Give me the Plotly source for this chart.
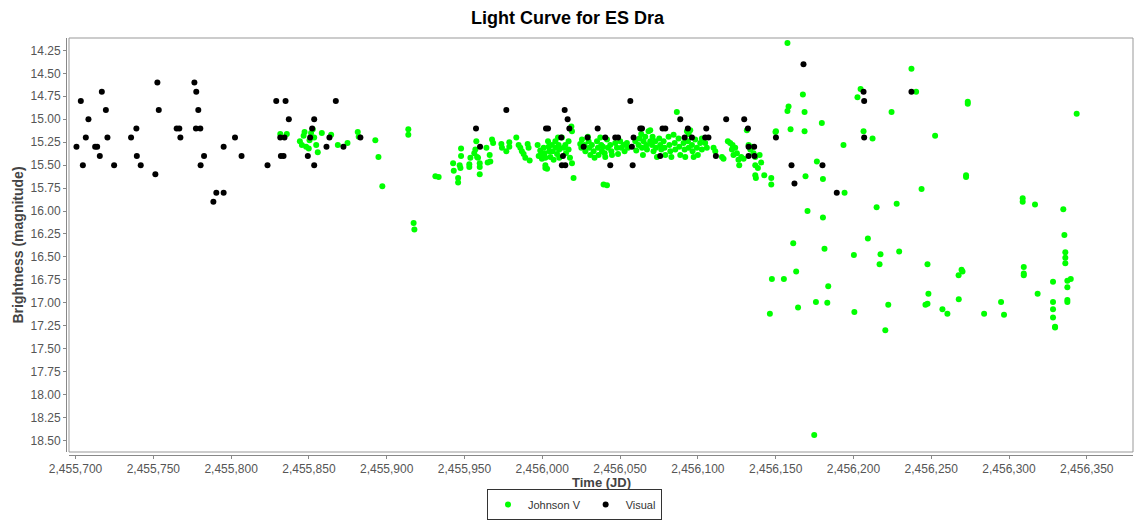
import plotly.graph_objects as go

# Johnson V observations (JD, magnitude)
jv_jd = [
    2455831.6, 2455835.8, 2455844.2, 2455845.5, 2455846.6, 2455847.2, 2455848.2, 2455849.9, 2455850.4, 2455851.4,
    2455852.5, 2455853.4, 2455854.7, 2455855.7, 2455858.3, 2455864.3, 2455868.6, 2455874.8, 2455881.4, 2455882.0,
    2455892.7, 2455894.7, 2455897.2, 2455913.9, 2455913.9, 2455917.3, 2455917.8,
    2455931.3, 2455933.4, 2455942.7, 2455943.1, 2455945.9, 2455945.9, 2455946.9, 2455947.4, 2455947.8, 2455947.8,
    2455953.1, 2455953.1, 2455953.8, 2455956.3, 2455957.0, 2455957.6, 2455958.1, 2455958.7, 2455959.8, 2455959.8,
    2455959.8, 2455964.1, 2455964.9, 2455966.2, 2455966.6, 2455967.7, 2455968.4, 2455973.7, 2455974.1, 2455976.9,
    2455978.8, 2455978.8, 2455983.3, 2455984.8, 2455985.9, 2455986.9, 2455988.0, 2455989.1, 2455990.6, 2455991.2,
    2455991.9, 2455997.0, 2455997.7,
    2455998.7, 2455999.4, 2455999.8, 2456000.9, 2456001.5, 2456002.0, 2456002.0, 2456003.7, 2456004.1, 2456004.5,
    2456005.2, 2456002.0, 2456003.1, 2456006.2, 2456006.6, 2456007.3, 2456008.4, 2456008.8, 2456009.5, 2456010.1,
    2456010.5, 2456010.9, 2456010.9, 2456012.6, 2456013.7, 2456014.8, 2456015.2, 2456016.9, 2456016.9, 2456017.8,
    2456018.7, 2456019.1, 2456019.1, 2456020.1, 2456024.4, 2456025.1, 2456025.5, 2456027.2, 2456027.7, 2456029.3,
    2456029.8, 2456030.2, 2456030.9, 2456031.9, 2456033.0, 2456033.6, 2456035.2, 2456035.8, 2456036.2, 2456037.3,
    2456037.9, 2456038.4, 2456039.0, 2456040.1, 2456040.5, 2456041.6, 2456042.2, 2456043.7, 2456044.4, 2456044.8,
    2456039.4, 2456041.6, 2456046.9, 2456048.0, 2456048.7, 2456050.1, 2456050.8, 2456052.3, 2456052.9, 2456054.4,
    2456055.1, 2456059.8, 2456060.4, 2456061.9, 2456062.5, 2456063.6, 2456064.1, 2456064.7, 2456065.1, 2456066.2,
    2456066.9, 2456067.3, 2456068.3, 2456069.4, 2456069.4, 2456070.5, 2456070.9, 2456071.5, 2456072.6, 2456073.1,
    2456073.7, 2456075.2, 2456075.8, 2456076.5, 2456078.0, 2456078.6,
    2456079.1, 2456081.2, 2456081.7, 2456082.3, 2456083.0, 2456084.4, 2456085.1, 2456085.5, 2456086.5, 2456087.6,
    2456088.1, 2456088.7, 2456090.8, 2456091.5, 2456091.9, 2456093.0, 2456094.1, 2456095.1, 2456093.6, 2456094.1,
    2456096.2, 2456096.6, 2456097.3, 2456098.3, 2456099.4, 2456100.0, 2456101.5, 2456102.6, 2456102.6, 2456104.7,
    2456105.8, 2456110.1, 2456111.2, 2456115.5, 2456116.5, 2456119.3, 2456120.8, 2456122.3, 2456121.9, 2456122.9,
    2456124.0, 2456125.1, 2456126.1, 2456126.6, 2456127.9, 2456129.4, 2456131.5, 2456132.6, 2456133.7, 2456134.7,
    2456135.8, 2456136.9, 2456136.9, 2456138.6, 2456139.7, 2456140.7, 2456136.9, 2456137.3, 2456142.7, 2456147.2,
    2456147.2, 2456150.2,
    2456157.6, 2456167.5, 2456158.3, 2456157.6, 2456168.6, 2456149.9, 2456159.6, 2456168.6, 2456179.7, 2456193.6,
    2456176.5, 2456169.2, 2456180.4, 2456194.3, 2456170.5, 2456180.4, 2456161.3, 2456181.4, 2456204.6, 2456202.6,
    2456206.5, 2456212.3, 2456237.3, 2456240.3, 2456224.5, 2456252.5, 2456273.5, 2456273.5, 2456272.4, 2456272.4,
    2456243.8, 2456214.9, 2456227.8, 2456308.8, 2456308.8, 2456316.7, 2456334.9, 2456343.5, 2456335.6, 2456209.3,
    2456200.3, 2456217.4, 2456216.8, 2456229.4, 2456247.6, 2456269.5, 2456270.1, 2456267.6, 2456309.5, 2456309.5,
    2456309.5, 2456336.2, 2456336.2, 2456336.2, 2456337.5, 2456339.7, 2456337.5, 2456328.3, 2456337.5, 2456337.5,
    2456328.3, 2456328.3, 2456328.3, 2456329.6, 2456329.6, 2456318.4, 2456294.9, 2456296.8, 2456284.0, 2456267.7,
    2456257.2, 2456260.4, 2456248.2, 2456246.3, 2456247.6, 2456222.4, 2456220.5, 2456200.6, 2456183.8, 2456183.2,
    2456175.9, 2456164.4, 2456163.2, 2456155.3, 2456147.6, 2456146.3, 2456174.8,
]
jv_mag = [
    15.16, 15.16, 15.24, 15.28, 15.18, 15.14, 15.30, 15.32, 15.23, 15.15,
    15.11, 15.20, 15.28, 15.36, 15.15, 15.17, 15.28, 15.26, 15.14, 15.19,
    15.23, 15.41, 15.73, 15.11, 15.17, 16.13, 16.20,
    15.62, 15.63, 15.48, 15.56, 15.64, 15.69, 15.50, 15.53, 15.32, 15.40,
    15.49, 15.52, 15.42, 15.37, 15.33, 15.24, 15.41, 15.42, 15.48, 15.52,
    15.60, 15.31, 15.47, 15.39, 15.46, 15.22, 15.26, 15.27, 15.31, 15.35,
    15.25, 15.30, 15.20, 15.28, 15.31, 15.35, 15.38, 15.42, 15.27, 15.31,
    15.45, 15.28, 15.40,
    15.34, 15.39, 15.43, 15.31, 15.37, 15.42, 15.50, 15.24, 15.30, 15.35,
    15.41, 15.53, 15.54, 15.28, 15.35, 15.44, 15.24, 15.31, 15.38, 15.20,
    15.28, 15.33, 15.42, 15.20, 15.31, 15.28, 15.37, 15.24, 15.33, 15.42,
    15.08, 15.13, 15.48, 15.64, 15.27, 15.31, 15.22, 15.28, 15.35, 15.19,
    15.24, 15.31, 15.39, 15.28, 15.35, 15.42, 15.24, 15.31, 15.39, 15.20,
    15.28, 15.35, 15.30, 15.37, 15.41, 15.22, 15.31, 15.28, 15.35, 15.39,
    15.71, 15.72, 15.26, 15.31, 15.38, 15.24, 15.31, 15.28, 15.35, 15.26,
    15.31, 15.24, 15.34, 15.28, 15.21, 15.16, 15.31, 15.39, 15.24, 15.19,
    15.28, 15.33, 15.13, 15.12, 15.24, 15.28, 15.19, 15.35, 15.24, 15.31,
    15.41, 15.21, 15.28, 15.33, 15.24, 15.31,
    15.39, 15.19, 15.28, 15.35, 15.41, 15.17, 15.26, 15.33, 14.92, 15.21,
    15.30, 15.39, 15.26, 15.33, 15.41, 15.13, 15.16, 15.12, 15.24, 15.31,
    15.28, 15.35, 15.41, 15.22, 15.31, 15.39, 15.26, 15.33, 15.21, 15.26,
    15.31, 15.31, 15.35, 15.41, 15.43, 15.24, 15.26, 15.28, 15.33, 15.39,
    15.31, 15.37, 15.44, 15.50, 15.41, 15.43, 15.12, 15.28, 15.33, 15.30,
    15.37, 15.41, 15.50, 15.53, 15.39, 15.47, 15.61, 15.64, 15.61, 15.64,
    15.71, 15.13,
    14.17, 14.73, 14.86, 14.91, 14.92, 15.14, 15.11, 15.13, 15.04, 15.28,
    15.46, 15.62, 15.65, 15.80, 16.00, 16.07, 16.35, 16.41, 14.67, 14.76,
    15.13, 15.21, 14.45, 14.70, 14.92, 15.18, 14.81, 14.83, 15.61, 15.63,
    15.76, 15.96, 15.92, 15.86, 15.90, 15.93, 15.98, 14.94, 16.26, 16.30,
    16.48, 16.47, 16.58, 16.44, 16.58, 16.64, 16.66, 16.70, 16.61, 16.68,
    16.70, 16.45, 16.51, 16.57, 16.76, 16.74, 16.83, 16.77, 16.97, 16.99,
    16.99, 17.07, 17.16, 17.26, 17.27, 16.90, 16.99, 17.13, 17.12, 16.96,
    17.07, 17.12, 16.90, 17.02, 17.01, 17.02, 17.30, 17.10, 16.82, 17.00,
    16.99, 17.05, 16.66, 16.74, 16.74, 17.12, 18.44,
]

# Visual observations (JD, magnitude)
vis_jd = [
    2455700.6, 2455703.4, 2455704.7, 2455706.6, 2455708.3, 2455712.6, 2455713.9, 2455715.6, 2455716.9, 2455719.5,
    2455720.5, 2455724.8, 2455735.7, 2455739.1, 2455739.4, 2455741.9, 2455751.3, 2455752.6, 2455753.5, 2455765.0,
    2455766.7, 2455767.4, 2455776.4, 2455777.6, 2455777.4, 2455778.9, 2455780.2, 2455780.4, 2455782.6, 2455788.6,
    2455790.5, 2455795.2, 2455795.2, 2455802.5, 2455806.7, 2455823.4, 2455829.0, 2455831.6, 2455832.0, 2455833.7,
    2455834.3, 2455835.0, 2455837.1, 2455849.3, 2455850.8, 2455852.1, 2455853.4, 2455853.4, 2455861.3, 2455863.2,
    2455867.3, 2455872.2, 2455883.1, 2455957.4, 2455960.0, 2455976.9, 2456002.4, 2456003.7, 2456012.2, 2456012.6,
    2456013.3, 2456014.4, 2456014.8, 2456016.3, 2456017.4, 2456026.6, 2456029.1, 2456035.6, 2456040.5, 2456043.7,
    2456046.9, 2456048.7, 2456056.6, 2456057.6, 2456058.1, 2456058.7, 2456063.0, 2456064.1, 2456075.8, 2456077.3,
    2456079.1, 2456088.7, 2456091.5, 2456093.6, 2456096.2, 2456104.7, 2456105.4, 2456106.8, 2456111.6, 2456118.2,
    2456129.8, 2456132.2, 2456132.6, 2456132.6, 2456136.2, 2456136.4, 2456150.2, 2456160.2, 2456162.1, 2456167.9,
    2456180.1, 2456189.3, 2456206.5, 2456206.9, 2456206.9, 2456237.3,
]
vis_mag = [
    15.30, 14.80, 15.50, 15.20, 15.00, 15.30, 15.30, 15.40, 14.70, 14.90,
    15.20, 15.50, 15.20, 15.10, 15.40, 15.50, 15.60, 14.60, 14.90, 15.10,
    15.10, 15.20, 14.60, 14.70, 15.10, 14.90, 15.10, 15.50, 15.40, 15.90,
    15.80, 15.30, 15.80, 15.20, 15.40, 15.50, 14.80, 15.20, 15.40, 15.40,
    15.20, 14.80, 15.00, 15.40, 15.20, 15.10, 15.00, 15.50, 15.30, 15.20,
    14.80, 15.30, 15.20, 15.10, 15.30, 14.90, 15.10, 15.10, 15.20, 15.50,
    15.40, 14.90, 15.50, 15.00, 15.10, 15.30, 15.20, 15.10, 15.20, 15.50,
    15.20, 15.20, 14.80, 15.30, 15.50, 15.20, 15.10, 15.10, 15.40, 15.10,
    15.10, 15.00, 15.20, 15.10, 15.20, 15.20, 15.10, 15.20, 15.40, 15.00,
    15.00, 15.10, 15.30, 15.40, 15.30, 15.40, 15.20, 15.50, 15.70, 14.40,
    15.50, 15.80, 14.70, 14.80, 15.20, 14.70,
]

series_names = ["Johnson V", "Visual"]
series_colors = ["#00FF00", "#000000"]

W, H = 1135, 520
ML, MR, MT, MB = 66, 2, 38, 65
OFF = 3
pw = W - ML - MR
ph = H - MT - MB

fig = go.Figure()
fig.add_trace(go.Scatter(x=jv_jd, y=jv_mag, mode="markers", name=series_names[0],
                         marker=dict(color=series_colors[0], size=6, line=dict(width=0))))
fig.add_trace(go.Scatter(x=vis_jd, y=vis_mag, mode="markers", name=series_names[1],
                         marker=dict(color=series_colors[1], size=6, line=dict(width=0))))

tick_font = dict(family="Liberation Sans, Arial, sans-serif", size=12, color="#555555")
title_font = dict(family="Liberation Sans, Arial, sans-serif", size=14, color="#444444")

fig.update_layout(
    width=W, height=H,
    margin=dict(l=ML, r=MR, t=MT, b=MB, autoexpand=False),
    paper_bgcolor="white", plot_bgcolor="white",
    title=dict(text="<b>Light Curve for ES Dra</b>", x=0.5, xanchor="center",
               y=1 - 18 / H, yanchor="middle",
               font=dict(family="Liberation Sans, Arial, sans-serif", size=18, color="#000000")),
    showlegend=True,
    legend=dict(orientation="h", xref="container", yref="container",
                x=574.5 / W, xanchor="center", y=0.0, yanchor="bottom",
                bordercolor="#333333", borderwidth=1, bgcolor="rgba(255,255,255,0)",
                font=dict(family="Liberation Sans, Arial, sans-serif", size=11, color="#333333"),
                itemwidth=30, tracegroupgap=0),
    xaxis=dict(domain=[OFF / pw, 1], anchor="free", position=0, automargin=False,
               range=[2455695.8, 2456379.7], dtick=50, tick0=2455700, tickformat=",d",
               showgrid=False, zeroline=False, showline=True, linecolor="#888888", linewidth=1,
               ticks="outside", ticklen=3, tickcolor="#888888", tickfont=tick_font),
    yaxis=dict(domain=[OFF / ph, 1], anchor="free", position=0, automargin=False,
               range=[18.625, 14.115], dtick=0.25, tick0=14.25, tickformat=".2f",
               showgrid=False, zeroline=False, showline=True, linecolor="#888888", linewidth=1,
               ticks="outside", ticklen=3, tickcolor="#888888", tickfont=tick_font,
               title=dict(text="<b>Brightness (magnitude)</b>", font=title_font, standoff=2)),
)

# x-axis title placed below the tick labels
fig.add_annotation(text="<b>Time (JD)</b>", xref="x domain", yref="paper",
                   x=0.5, y=-(482 - (H - MB)) / ph, xanchor="center", yanchor="middle",
                   showarrow=False, font=dict(family="Liberation Sans, Arial, sans-serif", size=13, color="#444444"))

fig.add_shape(type="rect", xref="x domain", yref="y domain", x0=0, x1=1, y0=0, y1=1,
              line=dict(color="#999999", width=1), fillcolor="rgba(0,0,0,0)", layer="below")

fig.write_html("out.html", config={"displayModeBar": False},
               post_script="document.body.style.margin='0';document.body.style.padding='0';")
